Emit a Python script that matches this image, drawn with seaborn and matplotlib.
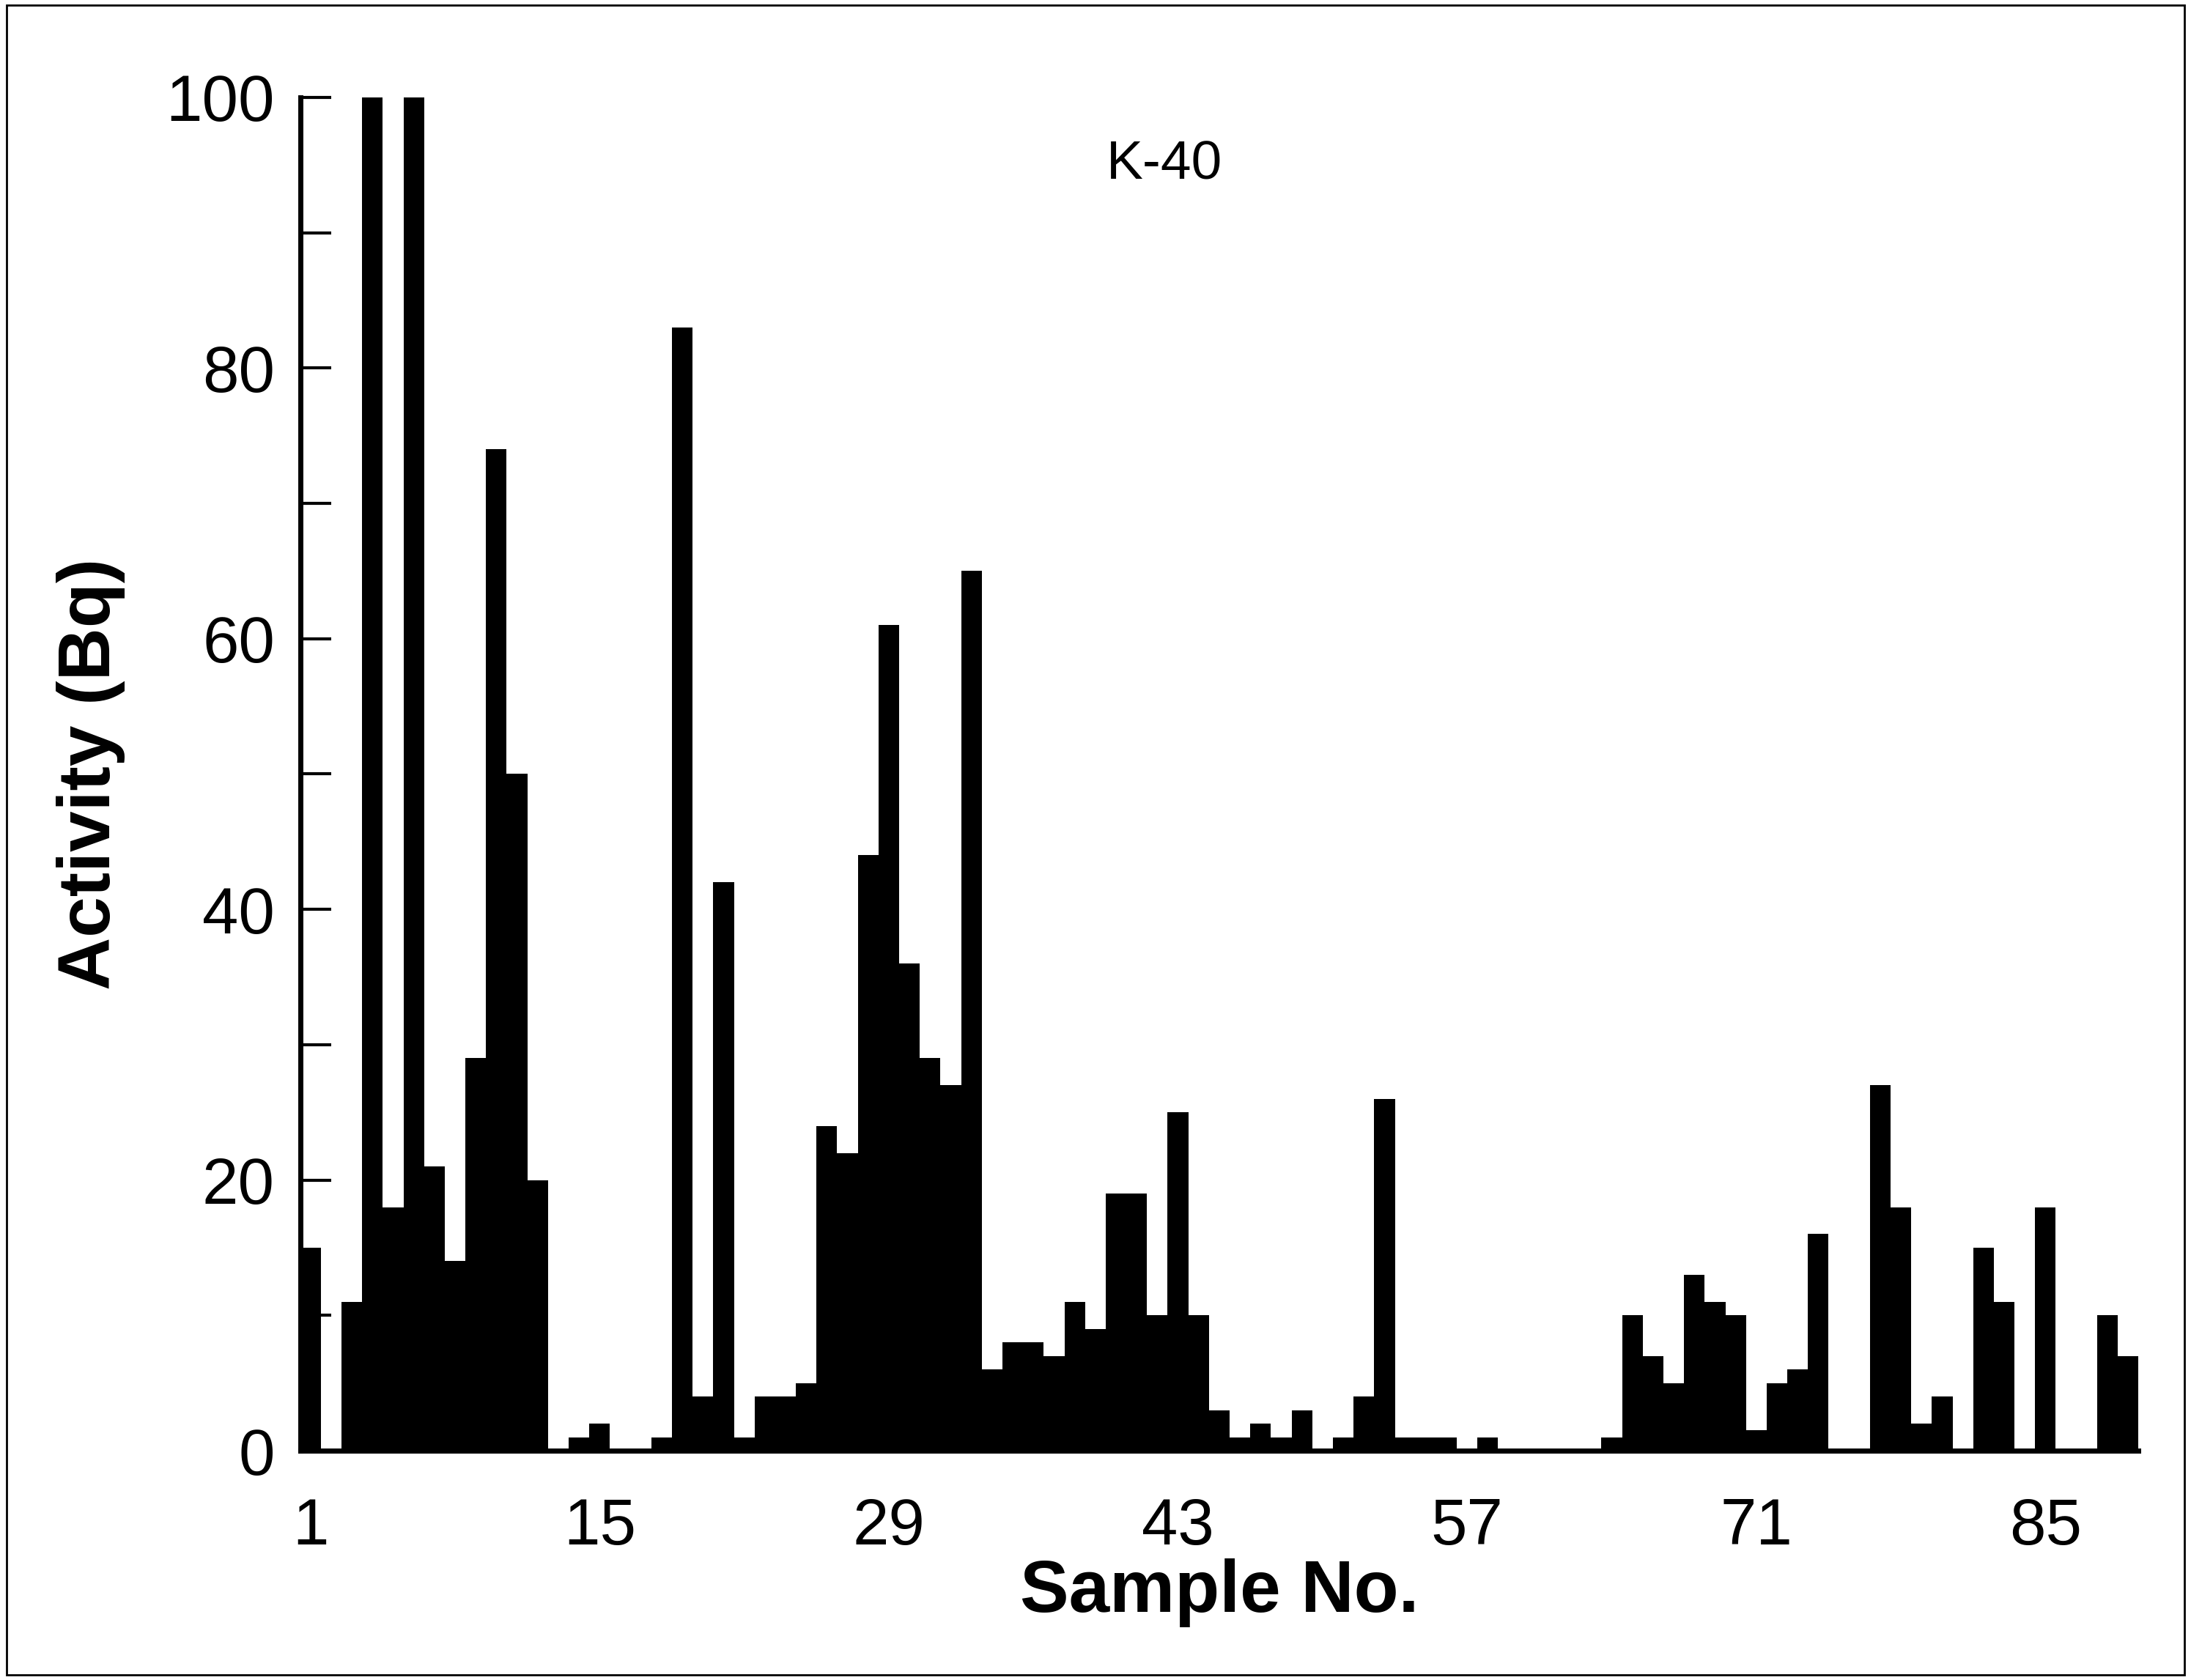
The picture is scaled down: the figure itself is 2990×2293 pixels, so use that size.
import numpy as np
import pandas as pd
import matplotlib
matplotlib.use("Agg")
import matplotlib.pyplot as plt
import seaborn as sns

# K-40 activity per sample (values over 100 are clipped by the axis)
samples = list(range(1, 90))
activity = [15, 0, 11, 105, 18, 105, 21, 14, 29, 74,
            50, 20, 0, 1, 2, 0, 0, 1, 83, 4,
            42, 1, 4, 4, 5, 24, 22, 44, 61, 36,
            29, 27, 65, 6, 8, 8, 7, 11, 9, 19,
            19, 10, 25, 10, 3, 1, 2, 1, 3, 0,
            1, 4, 26, 1, 1, 1, 0, 1, 0, 0,
            0, 0, 0, 1, 10, 7, 5, 13, 11, 10,
            1.5, 5, 6, 16, 0, 0, 27, 18, 2, 4,
            0, 15, 11, 0, 18, 0, 0, 10, 7]
xtick_labels = [1, 15, 29, 43, 57, 71, 85]

df = pd.DataFrame({"Sample": samples, "Activity": activity})

sns.set_style("white")
plt.rcParams['font.family'] = ['Liberation Sans', 'DejaVu Sans']
plt.rcParams['text.color'] = 'black'
plt.rcParams['xtick.color'] = 'black'
plt.rcParams['ytick.color'] = 'black'
plt.rcParams['axes.labelcolor'] = 'black'

fig = plt.figure(figsize=(29.9, 22.93), dpi=100)
ax = fig.add_axes([0.137, 0.1365, 0.839, 0.8055])

sns.barplot(data=df, x="Sample", y="Activity", native_scale=True, width=1.0,
            color="black", edgecolor="black", linewidth=0, saturation=1, ax=ax)

ax.set_xlim(0.5, 89.5)
ax.set_ylim(0, 100)
ax.set_yticks(np.arange(0, 101, 10))
ax.set_yticklabels([str(v) if v % 20 == 0 else "" for v in range(0, 101, 10)], fontsize=64)
ax.set_xticks(xtick_labels)
ax.set_xticklabels([str(v) for v in xtick_labels], fontsize=64)
ax.tick_params(axis="y", direction="in", length=30, width=3, pad=25, left=True)
ax.tick_params(axis="x", length=0, pad=45)

for s in ["top", "right"]:
    ax.spines[s].set_visible(False)
for s in ["left", "bottom"]:
    ax.spines[s].set_linewidth(5)
    ax.spines[s].set_color("black")

ax.set_xlabel("Sample No.", fontsize=72, fontweight="bold", labelpad=0)
ax.set_ylabel("Activity (Bq)", fontsize=72, fontweight="bold", labelpad=40)
ax.text(0.47, 0.95, "K-40", transform=ax.transAxes, fontsize=54, ha="center", va="center")

# thin frame around the whole figure
fig.patches.append(plt.Rectangle((0.003, 0.003), 0.994, 0.994, transform=fig.transFigure,
                                 fill=False, edgecolor="black", linewidth=2))

fig.savefig("out.png", dpi=100)
